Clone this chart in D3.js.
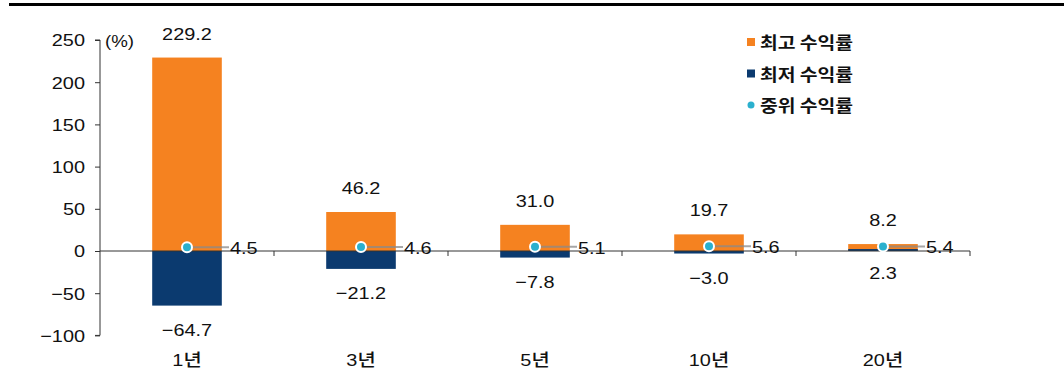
<!DOCTYPE html>
<html>
<head>
<meta charset="utf-8">
<script src="https://cdn.jsdelivr.net/npm/d3@7"></script>
<style>
  body { margin: 0; background: #fff; }
  svg { display: block; }
  text { font-family: "Liberation Sans", Arial, "Noto Sans CJK KR", sans-serif; fill: #111; }
</style>
</head>
<body>
<svg id="chart" width="1064" height="386"></svg>
<script>
const categories = ["1년", "3년", "5년", "10년", "20년"];
const maxReturn = [229.2, 46.2, 31.0, 19.7, 8.2];
const minReturn = [-64.7, -21.2, -7.8, -3.0, 2.3];
const medianReturn = [4.5, 4.6, 5.1, 5.6, 5.4];
const yTicks = [250, 200, 150, 100, 50, 0, -50, -100];
const legendLabels = ["최고 수익률", "최저 수익률", "중위 수익률"];

const colors = { max: "#F58220", min: "#0B3A6F", median: "#2BB0CE" };
const SX = 1.17; // horizontal stretch of the text in the reference

const svg = d3.select("#chart");
const W = 1064, H = 386;

function stretch(sel, xf, yf) {
  sel.attr("x", 0).attr("y", 0)
     .attr("transform", (d, i) => `translate(${xf(d, i)},${yf(d, i)}) scale(${SX},1)`);
}

// top rule
svg.append("rect").attr("x", 9).attr("y", 3).attr("width", W - 9).attr("height", 3).attr("fill", "#000");

const x = d3.scaleBand().domain(categories).range([100, 970]).paddingInner(0.6).paddingOuter(0.3);
const y = d3.scaleLinear().domain([-100, 250]).range([335.4, 40]);

const fmt = d3.format(".1f");

// y axis
const yAxis = d3.axisLeft(y).tickValues(yTicks).tickSize(5).tickPadding(6)
  .tickFormat(d => d < 0 ? "\u2212" + Math.abs(d) : d);
const gy = svg.append("g").attr("transform", "translate(100,0)").call(yAxis);
gy.select(".domain").attr("stroke", "#333").attr("d", `M-5,${y(250)}H0V${y(-100)}H-5`);
gy.selectAll(".tick line").attr("stroke", "#333");
gy.selectAll(".tick text").style("font-size", "17px").attr("fill", "#111")
  .attr("dominant-baseline", "central").attr("dy", null)
  .attr("transform", `translate(-15,0) scale(${SX},1)`).attr("x", 0);

svg.append("text").attr("x", 0).attr("y", 0)
  .attr("transform", `translate(105,${y(250) + 1}) scale(${SX},1)`)
  .attr("dominant-baseline", "central")
  .style("font-size", "16px").text("(%)");

// bars
const data = categories.map((c, i) => ({ c, max: maxReturn[i], min: minReturn[i], med: medianReturn[i] }));
const cx = d => x(d.c) + x.bandwidth() / 2;

svg.append("g").selectAll("rect").data(data).join("rect")
  .attr("x", d => x(d.c)).attr("width", x.bandwidth())
  .attr("y", d => y(Math.max(0, d.max))).attr("height", d => Math.abs(y(d.max) - y(0)))
  .attr("fill", colors.max);

svg.append("g").selectAll("rect").data(data).join("rect")
  .attr("x", d => x(d.c)).attr("width", x.bandwidth())
  .attr("y", d => y(Math.max(0, d.min))).attr("height", d => Math.abs(y(d.min) - y(0)))
  .attr("fill", colors.min);

// x axis
const xAxisLine = svg.append("g");
xAxisLine.append("line").attr("x1", 100).attr("x2", 970).attr("y1", y(0)).attr("y2", y(0)).attr("stroke", "#333");
const step = x.step();
const bounds = data.map(d => cx(d) + step / 2);
xAxisLine.selectAll("line.tk").data(bounds).join("line").attr("class", "tk")
  .attr("x1", d => d).attr("x2", d => d).attr("y1", y(0)).attr("y2", y(0) + 5).attr("stroke", "#333");

// median connectors
svg.append("g").selectAll("line").data(data).join("line")
  .attr("x1", cx).attr("x2", d => cx(d) + 42)
  .attr("y1", d => y(d.med)).attr("y2", d => y(d.med))
  .attr("stroke", "#8a8a8a").attr("stroke-opacity", 0.75).attr("stroke-width", 2);

// median dots
svg.append("g").selectAll("circle").data(data).join("circle")
  .attr("cx", cx).attr("cy", d => y(d.med)).attr("r", 5)
  .attr("fill", colors.median).attr("stroke", "#fff").attr("stroke-width", 2);

// labels
svg.append("g").selectAll("text").data(data).join("text")
  .attr("text-anchor", "middle").attr("dominant-baseline", "central")
  .style("font-size", "17px").text(d => fmt(d.max))
  .call(stretch, cx, d => y(d.max) - 24);

svg.append("g").selectAll("text").data(data).join("text")
  .attr("text-anchor", "middle").attr("dominant-baseline", "central")
  .style("font-size", "17px").text(d => (d.min < 0 ? "\u2212" : "") + fmt(Math.abs(d.min)))
  .call(stretch, cx, d => y(d.min) + 24);

svg.append("g").selectAll("text").data(data).join("text")
  .attr("dominant-baseline", "central")
  .style("font-size", "17px").text(d => fmt(d.med))
  .call(stretch, d => cx(d) + 43, d => y(d.med) + 1);

// category labels
svg.append("g").selectAll("text").data(data).join("text")
  .attr("text-anchor", "middle").attr("dominant-baseline", "central")
  .style("font-size", "17px").style("font-weight", "500")
  .style("font-family", "'Liberation Sans', 'Noto Sans CJK KR', sans-serif")
  .text(d => d.c)
  .call(stretch, cx, () => 360);

// legend
const lg = svg.append("g").attr("transform", "translate(747,42)");
const legendColors = [colors.max, colors.min, colors.median];
legendLabels.forEach((t, i) => {
  const row = lg.append("g").attr("transform", `translate(0,${i * 31.5})`);
  if (i < 2) {
    row.append("rect").attr("x", 0).attr("y", -4).attr("width", 8).attr("height", 8).attr("fill", legendColors[i]);
  } else {
    row.append("circle").attr("cx", 4).attr("cy", 0).attr("r", 3.5).attr("fill", legendColors[i]);
  }
  row.append("text").attr("x", 0).attr("y", 0)
    .attr("transform", `translate(13,0) scale(${SX},1)`)
    .attr("dominant-baseline", "central")
    .style("font-size", "16.5px").style("font-weight", "bold")
    .style("font-family", "'Noto Sans CJK KR', sans-serif").attr("fill", "#222").text(t);
});
</script>
</body>
</html>
